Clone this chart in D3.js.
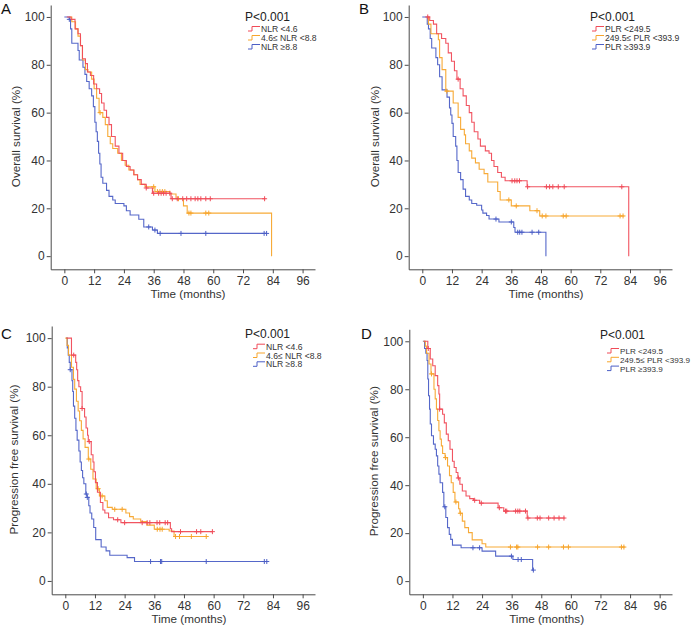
<!DOCTYPE html>
<html><head><meta charset="utf-8">
<script src="https://cdn.jsdelivr.net/npm/d3@7"></script>
<style>body{margin:0;background:#fff}svg text{font-family:"Liberation Sans",Arial,Helvetica,sans-serif}</style>
</head><body><svg id="c" width="694" height="630"></svg>
<script>
// ---------- data ----------
const xTicks = [0,12,24,36,48,60,72,84,96];
const yTicks = [0,20,40,60,80,100];
const nlrGroups = ["NLR <4.6","4.6\u2264 NLR <8.8","NLR \u22658.8"];
const plrGroups = ["PLR <249.5","249.5\u2264 PLR <393.9","PLR \u2265393.9"];
const pText = "P<0.001";
const panelLetters = ["A","B","C","D"];
const yTitles = ["Overall survival (%)","Overall survival (%)","Progression free survival (%)","Progression free survival (%)"];
const xTitle = "Time (months)";

// A: overall survival by NLR  [month, survival %]
const osNlrLow = [[1,100],[2.7,99],[4.3,95],[5.5,93],[6.5,88],[7.3,82.5],[8.5,80.5],[9.3,77],[10.5,75.5],[11.8,72],[13,70],[14.2,68],[15,64],[16,61],[17,58],[18,55],[19,50],[20.5,46],[22,43],[23.5,40],[25,37.5],[26.5,36],[28,34],[29.5,32],[31,30],[33,28.5],[35.5,26.3],[43,24],[81,24]];
const osNlrLowCens = [33,36,38,39,40,41,42.5,43.5,45.5,47.7,49.3,51,52.7,53.8,55,57,58.8,80.7];
const osNlrMid = [[2,100],[3,98],[4.5,95],[5.5,92],[6.5,88],[7.3,82],[8.5,78],[9.5,77],[11,74],[12,70],[13,66],[14,60],[15.5,58],[16.5,55],[17.5,50],[18.5,47],[19.5,45],[21.5,43],[23,40],[24.5,38],[26,36],[28,34],[29.5,32],[30.5,30],[32.5,29],[36.5,27],[42.5,26],[45,24],[48,21],[49.5,18],[83.5,18],[83.5,0]];
const osNlrMidCens = [14.4,36,37.5,38.5,39.5,40.5,46,50.2,51,57,58.2];
const osNlrHigh = [[0,100],[2,99],[2.5,95],[3,89],[5.5,86],[6,82],[7.5,79],[8.3,76],[9,73],[10,70],[11,67],[11.7,62.5],[12.3,56],[12.8,52],[13.3,48],[13.8,43],[14.3,38.5],[14.8,33],[15.5,30.5],[17,27.5],[18,25],[19.5,23.5],[20.5,22],[24,21],[25,19],[26.5,17.2],[30,15.4],[32,12.2],[35.5,10.9],[37.5,9.5],[81.5,9.5]];
const osNlrHighCens = [2,34,36.5,38.6,47,57,80.5,81.5];

// B: overall survival by PLR
const osPlrLow = [[1.8,100],[3,98.5],[4.5,97],[5.8,93],[7.8,91],[9.5,89],[10.5,85],[11.8,81.5],[13,77.5],[14,74],[15.3,70],[16.5,67],[17.8,63],[19,60],[20,56],[21,52],[22.5,49],[23.5,46],[25.5,44],[27,43],[28,40],[29,37.5],[30.5,35],[32,33],[33.5,31.5],[42.4,29],[83.5,29],[83.5,0]];
const osPlrLowCens = [2.2,14.5,36.3,37.4,38.3,39.3,42.6,50.2,51.5,52.8,55,57.4,80.7];
const osPlrMid = [[2,100],[2.5,97],[3.5,93],[6.5,90.5],[7,83],[8,78],[9.5,69],[12.5,64],[14.5,58],[15.5,53],[17,50.7],[17.5,47],[19,44],[20,41],[21.5,39],[23,36.3],[25,34.5],[26.5,31],[30.5,27],[31.5,23.5],[36,21],[43.5,19],[47.5,16.8],[81.7,16.8]];
const osPlrMidCens = [9.9,35,38,46.4,48.5,50,57,58.2,80,81.2];
const osPlrHigh = [[0,100],[2,97],[2.5,95],[3.2,91],[3.8,87],[5.5,83],[6.2,80],[7,75],[8,69.5],[10,66.5],[11,62],[11.5,59],[12,55.5],[12.5,50],[13.5,46],[14,40],[14.5,35],[15.5,32],[16.5,28],[17.5,25],[19,23.5],[20,22],[22,21.3],[24,19.3],[24.5,18],[26,17],[27,15.5],[31,14.3],[37,12],[37.5,10],[50,10],[50,0]];
const osPlrHighCens = [29.8,36,38.6,39.4,40.3,44.4,47.1];

// C: progression free survival by NLR
const pfsNlrLow = [[0.5,100],[2.5,93],[4.2,90],[4.6,87],[5,82.5],[5.5,80],[6.2,78],[6.8,71],[7.8,67.5],[8.4,63],[9,60],[9.3,57.4],[10.5,52],[11.2,49],[11.6,45],[12.2,40.5],[13,36.5],[14.2,32.3],[15.2,29.2],[16,28],[17.5,26],[19.5,25.2],[22.5,24],[42.5,21.5],[43,20.3],[59.5,20.3]];
const pfsNlrLowCens = [3.4,6.8,9.7,21.2,24,31.1,33.1,34.2,37.1,38.2,40.4,41.4,46.6,53.1,54.8,59.5];
const pfsNlrMid = [[0,100],[0.7,97],[1.3,93],[2.5,88],[3.3,83],[3.8,79],[4.5,74],[5.2,70],[5.8,66],[6.5,62],[7.2,58.5],[8,55],[9.3,50.2],[10.3,46],[11.2,42],[12.5,38],[13.8,35],[16,33],[17,30.3],[19,29.5],[24.5,28],[26,26.5],[27.5,25.5],[30.5,24.5],[33,23],[36,21.3],[42,20.6],[44,18.3],[57,18.3]];
const pfsNlrMidCens = [9.5,13.3,14.9,20,23,37.2,38.3,39.2,44.6,46.2,51,57];
const pfsNlrHigh = [[0.3,100],[0.8,96],[1.2,93],[1.6,90],[2,87],[2.7,82.5],[3,78],[3.3,72],[3.8,67],[4.3,62],[4.8,58],[5.5,53.5],[6,49],[6.5,45.5],[7,42.5],[7.5,40],[8.3,35.8],[8.8,34.4],[9.5,31],[10,28],[10.7,25.5],[11.5,22],[12.3,17],[14.5,14],[16.5,12.4],[18,10.6],[25,9.6],[28,8],[81.5,8]];
const pfsNlrHighCens = [2,8.5,8.9,34.5,38.5,39,57,80.5,81.5];

// D: progression free survival by PLR
const pfsPlrLow = [[0.5,100],[2,97],[3,92.6],[4,89.8],[5,85.7],[6,81.5],[6.5,78],[6.8,71.7],[8,69.6],[8.7,66],[9.5,61.3],[10.3,58.5],[11,55],[12,50],[12.7,47.4],[13.5,45.3],[14.2,43],[15,40.4],[16,37.6],[17.5,35.5],[19,34.4],[20.5,33.7],[23,32.5],[30.5,30.6],[32.8,29.2],[42.3,26.3],[57.5,26.3]];
const pfsPlrLowCens = [2.2,6.8,14.4,21,23.7,31,33.5,34,37.6,38.5,39.3,41.6,42.6,46.4,47.5,51,53.2,55.2,57.2];
const pfsPlrMid = [[0.2,100],[1,98],[1.5,95],[2.5,90.5],[3.3,86.4],[4.5,80],[5,76],[5.5,71.7],[6,67],[6.5,62.7],[7,59.2],[7.5,56.4],[8,53.2],[9,51.5],[10,48],[10.8,44],[11.5,41],[12.3,37],[13,33],[14.5,30.2],[15,28.3],[16,25],[17,22.3],[18.5,20.2],[20,17.2],[24,15.6],[25.5,14.2],[82,14.2]];
const pfsPlrMidCens = [3.5,9.2,13.4,15.2,35.5,38,38.5,46.5,51,57,59,80.5,81.5];
const pfsPlrHigh = [[0,100],[0.7,97],[1.2,95],[1.7,92],[2,84.3],[2.3,77.3],[2.7,71.7],[3,65.5],[3.5,60.6],[4.3,57.1],[5,55],[5.5,52.2],[6,48],[6.5,44.6],[7,41],[8,37],[8.5,31],[9.3,26.5],[10,22.3],[10.7,19.5],[11.3,17.4],[12,15],[15.5,13.9],[24,12.5],[29.5,10.4],[36.5,9],[44.5,4.6],[45,4.6]];
const pfsPlrHighCens = [8.9,20.3,23,35.9,38.6,39.9,44.8];

const colors = ["#f04b58","#f7a52c","#4c5fc6"];

// ---------- layout ----------
const panels = [
  {curves:[osNlrLow,osNlrMid,osNlrHigh], cens:[osNlrLowCens,osNlrMidCens,osNlrHighCens], groups:nlrGroups,
   left:50.7, right:315, top:5, bottom:269.3, letter:[1,13.5], yTitleX:15, xTitleY:298,
   pX:245, pY:21, legX:248, legY0:29, legDy:9, legFont:8.6},
  {curves:[osPlrLow,osPlrMid,osPlrHigh], cens:[osPlrLowCens,osPlrMidCens,osPlrHighCens], groups:plrGroups,
   left:408.7, right:672, top:5, bottom:269.3, letter:[359,13.5], yTitleX:374, xTitleY:298,
   pX:590, pY:21, legX:592, legY0:29, legDy:9, legFont:8.6},
  {curves:[pfsNlrLow,pfsNlrMid,pfsNlrHigh], cens:[pfsNlrLowCens,pfsNlrMidCens,pfsNlrHighCens], groups:nlrGroups,
   left:51.7, right:315, top:326, bottom:594.3, letter:[1,338.5], yTitleX:13, xTitleY:623,
   pX:245, pY:338, legX:253, legY0:346.7, legDy:8.8, legFont:8.6},
  {curves:[pfsPlrLow,pfsPlrMid,pfsPlrHigh], cens:[pfsPlrLowCens,pfsPlrMidCens,pfsPlrHighCens], groups:plrGroups,
   left:409.3, right:672, top:329.3, bottom:594.3, letter:[361,338.5], yTitleX:373, xTitleY:623,
   pX:600, pY:339, legX:607, legY0:351, legDy:8.8, legFont:8.1}
];

const svg = d3.select("#c");
const axisColor = "#4a4a4a";

function survAt(curve, t){
  let s = curve[0][1];
  for (const p of curve){ if (p[0] <= t) s = p[1]; else break; }
  return s;
}

panels.forEach((P, pi) => {
  const x = d3.scaleLinear().domain([-5.5, 101]).range([P.left, P.right]);
  const y = d3.scaleLinear().domain([-5.5, 105]).range([P.bottom, P.top]);
  const g = svg.append("g");

  const xa = g.append("g").attr("transform", `translate(0,${P.bottom})`)
    .call(d3.axisBottom(x).tickValues(xTicks).tickSize(4).tickSizeOuter(0).tickPadding(3));
  const ya = g.append("g").attr("transform", `translate(${P.left},0)`)
    .call(d3.axisLeft(y).tickValues(yTicks).tickSize(4).tickSizeOuter(0).tickPadding(2));
  [xa, ya].forEach(a => {
    a.selectAll("path,line").attr("stroke", axisColor).attr("stroke-width", 1);
    a.selectAll("text").attr("fill", "#333").attr("font-size", 12)
      .attr("font-family", '"Liberation Sans",Arial,sans-serif');
  });

  // titles
  g.append("text").attr("x", 188).attr("y", P.xTitleY).attr("text-anchor","middle")
    .attr("transform", `translate(${(P.left-50.7)},0)`)
    .attr("font-size", 11.7).attr("fill","#333").text(xTitle);
  const cy = (y(0) + y(100)) / 2;
  g.append("text").attr("transform", `translate(${P.yTitleX},${cy}) rotate(-90)`)
    .attr("text-anchor","middle").attr("dominant-baseline","central")
    .attr("font-size", 11.7).attr("fill","#333").text(yTitles[pi]);
  g.append("text").attr("x", P.letter[0]).attr("y", P.letter[1])
    .attr("font-size", 15).attr("fill","#111").text(panelLetters[pi]);

  // curves
  const line = d3.line().x(d => x(d[0])).y(d => y(d[1])).curve(d3.curveStepAfter);
  const order = [2,1,0];
  order.forEach(ci => {
    g.append("path").datum(P.curves[ci]).attr("d", line)
      .attr("fill","none").attr("stroke", colors[ci]).attr("stroke-width", 1.1)
      .attr("stroke-opacity", 0.95);
    g.append("g").selectAll("path").data(P.cens[ci]).join("path")
      .attr("d", t => {
        const px = x(t), py = y(survAt(P.curves[ci], t));
        return `M${px},${py-2.5}V${py+2.5}M${px-2.5},${py}H${px+2.5}`;
      })
      .attr("stroke", colors[ci]).attr("stroke-width", 1).attr("fill","none");
  });

  // legend
  g.append("text").attr("x", P.pX).attr("y", P.pY).attr("font-size", 12).attr("fill","#222").text(pText);
  P.groups.forEach((name, i) => {
    const ly = P.legY0 + i * P.legDy;
    const lx = P.legX;
    g.append("path").attr("d", `M${lx},${ly+2}H${lx+4}V${ly-2.5}H${lx+12}`)
      .attr("fill","none").attr("stroke", colors[i]).attr("stroke-width", 1);
    g.append("text").attr("x", lx + 13).attr("y", ly + 3).attr("font-size", P.legFont)
      .attr("fill","#333").text(name);
  });
});
</script>
</body></html>
